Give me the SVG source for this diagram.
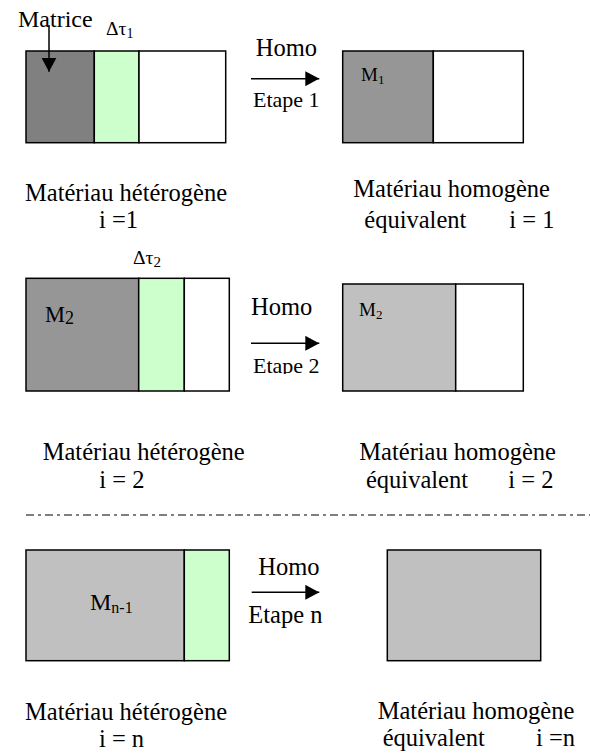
<svg xmlns="http://www.w3.org/2000/svg" width="590" height="753" viewBox="0 0 590 753">
  <style>
    text { font-family: "Liberation Serif", "Times New Roman", serif; fill: #000; }
    .lbl { font-size: 24.5px; }
    .box { stroke: #000; stroke-width: 1.5; }
    .dark { fill: #808080; }
    .mid { fill: #969696; }
    .light { fill: #c0c0c0; }
    .green { fill: #ccffcc; }
    .white { fill: #ffffff; }
    .arrow { stroke: #000; stroke-width: 1.5; fill: none; }
    .sub { font-size: 13px; }
    .delta { font-size: 19.5px; }
  </style>
  <defs>
    <marker id="head" viewBox="0 0 14 15" refX="14" refY="7.5" markerWidth="14" markerHeight="15" markerUnits="userSpaceOnUse" orient="auto">
      <path d="M0,0 L14,7.5 L0,15 Z" fill="#000"/>
    </marker>
    <clipPath id="clipEtape2">
      <rect x="240" y="340" width="90" height="34"/>
    </clipPath>
  </defs>

  <!-- Step 1: heterogeneous material -->
  <g id="hetero1">
    <rect class="box dark" x="26" y="51" width="68.3" height="91.7"/>
    <rect class="box green" x="94.3" y="51" width="44.7" height="91.7"/>
    <rect class="box white" x="139" y="51" width="86.7" height="91.7"/>
    <text x="18" y="26.7" style="font-size:24px">Matrice</text>
    <text x="106" y="35" class="delta">Δτ<tspan style="font-size:14px" dy="3">1</tspan></text>
    <text x="25" y="200.7" class="lbl">Matériau hétérogène</text>
    <text x="99" y="228" class="lbl">i =1</text>
  </g>

  <!-- Step 1: equivalent homogeneous material -->
  <g id="homo1">
    <rect class="box mid" x="342.7" y="51" width="90.6" height="91.7"/>
    <rect class="box white" x="433.3" y="51" width="90" height="91.7"/>
    <text x="361" y="81" style="font-size:19px">M<tspan class="sub" dy="2.5">1</tspan></text>
    <text x="353.3" y="197.3" class="lbl">Matériau homogène</text>
    <text y="228.3" class="lbl"><tspan x="364.3">équivalent</tspan><tspan x="509.3">i = 1</tspan></text>
  </g>

  <!-- Step 2: heterogeneous material -->
  <g id="hetero2">
    <rect class="box mid" x="26" y="278.3" width="112.7" height="112.7"/>
    <rect class="box green" x="138.7" y="278.3" width="45.6" height="112.7"/>
    <rect class="box white" x="184.3" y="278.3" width="45" height="112.7"/>
    <text x="133" y="264" class="delta">Δτ<tspan style="font-size:15px" dy="3">2</tspan></text>
    <text x="45" y="321.7" style="font-size:22.5px">M<tspan style="font-size:18px" dy="2">2</tspan></text>
    <text x="42.7" y="460" class="lbl">Matériau hétérogène</text>
    <text x="99.3" y="488.3" class="lbl">i = 2</text>
  </g>

  <!-- Step 2: equivalent homogeneous material -->
  <g id="homo2">
    <rect class="box light" x="342.7" y="284" width="113" height="107"/>
    <rect class="box white" x="455.7" y="284" width="67.6" height="107"/>
    <text x="359" y="316" style="font-size:19px">M<tspan class="sub" dy="2.5">2</tspan></text>
    <text x="359.3" y="460" class="lbl">Matériau homogène</text>
    <text y="488.3" class="lbl"><tspan x="366">équivalent</tspan><tspan x="508.3">i = 2</tspan></text>
  </g>

  <!-- Separator between step 2 and step n -->
  <line x1="26" y1="515" x2="590" y2="515" stroke="#000" stroke-width="1.2" stroke-dasharray="8,4,3,4"/>

  <!-- Step n: heterogeneous material -->
  <g id="heteroN">
    <rect class="box light" x="26" y="550" width="158.3" height="110.7"/>
    <rect class="box green" x="184.3" y="550" width="45" height="110.7"/>
    <text x="90" y="609.7" style="font-size:24px">M<tspan style="font-size:16px" dy="3">n-1</tspan></text>
    <text x="25" y="719.7" class="lbl">Matériau hétérogène</text>
    <text x="99" y="747.3" class="lbl">i = n</text>
  </g>

  <!-- Step n: equivalent homogeneous material -->
  <g id="homoN">
    <rect class="box light" x="387.3" y="550" width="153.4" height="110.7"/>
    <text x="377.7" y="719" class="lbl">Matériau homogène</text>
    <text y="746.3" class="lbl"><tspan x="382.7">équivalent</tspan><tspan x="536">i =n</tspan></text>
  </g>

  <!-- Homogenisation arrows and pointer -->
  <g id="connectors">
    <line class="arrow" x1="49" y1="25" x2="49" y2="71.7" marker-end="url(#head)"/>

    <line class="arrow" x1="251" y1="78.7" x2="319.3" y2="78.7" marker-end="url(#head)"/>
    <text x="255.7" y="56" style="font-size:24.5px">Homo</text>
    <text x="253" y="107" style="font-size:22px">Etape 1</text>

    <line class="arrow" x1="251" y1="343.3" x2="319.3" y2="343.3" marker-end="url(#head)"/>
    <text x="251" y="315" style="font-size:24.5px">Homo</text>
    <text x="253" y="373" style="font-size:22px" clip-path="url(#clipEtape2)">Etape 2</text>

    <line class="arrow" x1="251.7" y1="592.3" x2="319.3" y2="592.3" marker-end="url(#head)"/>
    <text x="258.3" y="574.7" style="font-size:24.5px">Homo</text>
    <text x="248.3" y="623" style="font-size:24.5px">Etape n</text>
  </g>
</svg>
